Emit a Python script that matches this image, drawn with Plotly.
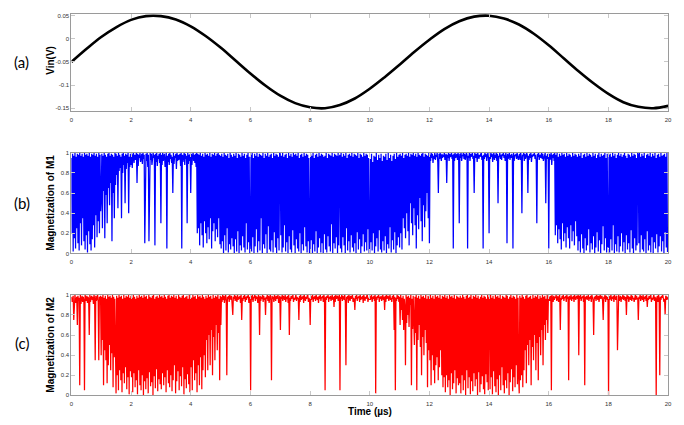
import plotly.graph_objects as go

# ---- data ----
# (a) input voltage, sampled every 0.5 us
vin_t = [i * 0.5 for i in range(41)]
vin_v = [-0.050, -0.022, 0.004, 0.025, 0.041, 0.049, 0.049, 0.042, 0.027, 0.006,
         -0.019, -0.047, -0.075, -0.101, -0.123, -0.139, -0.148, -0.150, -0.143, -0.129,
         -0.108, -0.083, -0.056, -0.028, -0.002, 0.021, 0.038, 0.048, 0.050, 0.044,
         0.031, 0.011, -0.014, -0.042, -0.070, -0.096, -0.119, -0.137, -0.147, -0.150,
         -0.145]

# (b) magnetization of M1 (percent), 50 samples per microsecond (0..20 us)
m1_pct = [
    95,20,99,2,97,15,100,5,96,25,99,10,98,3,100,30,97,8,99,35,96,12,100,4,98,
    18,99,1,97,22,100,9,96,3,99,14,98,28,100,6,97,38,99,16,96,32,100,20,98,42,
    55,99,25,97,62,100,15,98,58,96,30,99,65,100,48,97,70,99,12,98,60,96,35,100,68,
    99,78,97,45,100,82,98,85,96,35,99,80,100,88,97,50,99,84,98,90,100,40,96,86,99,
    88,99,85,97,100,90,98,93,96,100,70,99,87,98,95,100,91,97,99,89,100,94,98,10,96,
    99,92,100,86,98,12,97,100,93,99,88,96,100,95,98,8,99,91,100,87,97,94,99,90,100,
    30,98,88,100,92,97,99,86,95,100,5,97,91,99,88,100,94,98,90,96,60,100,89,97,95,
    99,84,100,92,98,93,97,99,87,100,5,98,91,96,100,88,99,94,97,30,100,89,98,92,99,
    60,99,88,97,100,92,98,90,99,86,100,20,99,25,98,8,100,30,97,18,99,6,96,32,100,
    20,98,10,99,26,97,14,100,35,96,5,99,22,98,30,100,12,97,24,99,16,100,35,98,9,
    97,5,99,12,96,0,100,18,98,3,97,25,99,1,95,9,100,4,98,15,96,7,99,0,97,
    14,100,2,95,22,99,0,98,8,96,3,100,17,97,6,99,1,95,30,98,4,100,11,96,0,
    10,98,2,100,16,95,0,99,7,97,24,100,1,96,12,99,3,98,35,97,0,100,9,95,5,
    99,19,97,0,100,27,96,4,98,2,99,13,95,1,100,21,97,6,99,0,98,15,96,3,100,
    99,18,97,1,100,6,96,28,98,2,99,11,95,0,100,17,97,4,99,1,96,23,100,8,98,
    0,99,14,97,5,100,2,95,20,98,0,99,9,96,3,100,26,97,7,99,1,98,12,95,0,
    3,99,13,97,0,100,9,95,2,98,22,99,0,96,6,100,15,97,1,99,10,98,0,96,19,
    97,4,100,1,95,17,99,7,98,2,97,29,100,0,96,10,99,5,98,16,97,0,100,8,96,
    98,5,100,1,96,16,99,8,97,0,100,25,95,3,98,12,99,1,97,18,100,6,96,2,99,
    10,98,0,97,21,100,4,95,14,99,0,98,7,96,19,100,2,97,11,99,3,98,24,95,0,
    1,94,11,99,3,91,20,97,0,96,7,100,15,93,2,98,23,95,4,99,1,92,12,97,3,
    96,17,99,0,93,9,100,5,95,26,98,1,92,13,97,4,99,21,94,0,100,8,96,16,98,
    6,99,20,97,4,100,35,95,25,98,15,99,40,97,22,100,8,96,50,99,30,98,18,100,45,
    97,28,99,5,96,38,100,24,98,55,97,32,99,12,100,48,96,26,99,42,98,60,97,35,100,
    10,98,92,100,95,99,90,97,94,100,93,98,96,100,91,60,99,94,100,97,92,99,95,98,96,
    100,93,97,99,70,98,95,100,92,99,96,97,100,94,98,5,99,92,100,95,97,99,93,100,96,
    30,99,95,100,92,98,97,100,94,99,93,96,100,98,5,97,95,100,92,99,96,98,100,94,97,
    60,100,98,95,99,91,100,97,94,98,96,99,100,93,97,5,98,94,100,96,99,92,97,100,95,
    20,98,94,100,96,99,91,97,100,93,98,95,100,92,99,50,97,96,100,94,98,93,99,97,100,
    95,98,92,100,96,10,99,94,97,100,93,98,95,99,96,5,100,92,98,97,99,94,100,96,93,
    96,99,93,100,95,40,98,97,100,92,99,94,96,100,98,60,97,93,99,95,100,91,98,96,99,
    97,100,94,98,92,30,99,96,100,93,97,98,95,100,94,99,92,96,98,100,50,97,94,99,96,
    5,99,93,97,100,88,98,95,99,92,100,18,98,28,100,10,96,24,99,14,97,4,100,30,98,
    12,99,20,96,6,100,26,97,15,99,5,98,28,96,12,100,22,97,8,99,32,98,17,96,3,
    99,12,97,1,100,19,95,5,98,0,99,15,96,3,100,8,97,24,99,1,98,10,96,4,100,
    17,97,0,99,6,95,21,98,2,100,13,96,0,99,9,97,27,98,3,100,15,95,1,99,7,
    6,98,1,99,14,96,3,100,28,97,0,99,9,95,2,98,17,100,1,97,7,99,20,96,2,
    98,11,100,0,97,18,95,4,99,10,98,1,96,23,100,5,97,0,99,15,98,3,95,8,100,
    98,10,100,1,96,18,99,4,97,2,100,14,95,0,98,22,99,3,97,8,100,1,96,16,99,
    0,97,11,100,5,95,19,98,1,99,7,96,17,100,2,97,12,98,0,99,21,96,6,100,2,
    2]

# (c) magnetization of M2 (percent), 50 samples per microsecond (0..20 us)
m2_pct = [
    98,93,96,99,75,97,100,92,95,98,70,99,94,97,10,100,91,96,99,93,98,95,5,100,97,
    94,99,92,98,96,60,100,93,97,99,95,98,91,100,96,35,99,94,97,100,93,35,98,95,99,
    40,98,55,100,10,97,45,99,35,96,12,100,30,98,50,99,25,97,42,100,8,98,38,96,48,
    2,99,20,97,5,100,25,98,15,99,3,96,22,100,12,97,28,99,6,98,18,100,1,97,24,99,
    18,97,3,100,22,98,8,96,15,99,1,97,25,100,10,98,5,99,20,97,0,100,14,98,6,
    99,17,96,2,100,23,98,9,97,13,99,0,100,19,96,7,98,26,99,4,97,16,100,11,98,
    6,99,22,97,10,100,18,98,3,96,25,99,12,100,8,97,20,99,4,98,15,100,30,97,2,
    99,14,96,24,100,5,98,19,97,9,99,28,100,1,97,16,98,7,99,21,96,11,100,3,98,
    28,97,5,100,35,98,15,99,22,96,3,100,30,98,10,99,38,97,6,100,25,98,40,96,18,
    99,55,97,25,100,60,98,30,99,65,96,20,100,58,97,35,99,70,98,45,100,62,96,15,99,
    70,98,93,100,95,99,92,97,100,94,20,98,96,99,93,100,97,95,99,91,80,98,96,100,94,
    99,97,93,100,95,98,96,99,92,100,75,97,94,99,96,100,93,98,95,99,97,100,92,98,96,
    5,99,95,100,93,98,97,100,94,99,96,98,92,100,97,60,99,94,98,96,100,93,99,95,97,
    80,98,96,100,94,99,92,97,100,95,15,99,96,98,93,100,97,94,99,96,98,100,92,97,99,
    65,98,96,100,94,99,97,95,100,93,98,96,99,92,100,60,97,94,99,96,98,100,93,97,95,
    99,100,94,98,96,97,75,99,93,100,95,98,96,99,92,100,97,94,98,96,99,100,93,97,95,
    70,99,95,97,100,93,98,96,99,94,100,97,95,98,92,99,96,100,94,98,97,99,93,100,96,
    5,98,95,99,97,100,93,98,96,99,94,97,100,95,98,88,99,93,100,96,97,99,94,98,100,
    5,98,96,100,94,99,97,95,100,93,30,98,96,99,92,100,97,94,99,96,98,100,93,97,95,
    85,99,96,100,94,98,97,99,93,100,95,98,96,99,92,100,97,94,98,96,99,100,93,97,95,
    99,95,97,100,93,98,96,99,94,100,2,98,95,99,97,100,93,98,96,99,94,97,100,95,98,
    85,99,93,100,96,97,99,94,98,100,95,97,93,99,96,100,65,98,5,97,94,100,96,99,93,
    98,70,100,85,97,75,99,65,96,88,30,100,72,98,80,99,68,97,90,100,10,96,66,99,78,
    50,98,62,100,5,97,55,99,70,96,48,100,20,98,58,99,40,97,65,100,52,96,8,99,45,
    98,35,100,10,97,40,99,25,96,12,100,30,98,38,99,15,97,28,100,45,96,20,99,8,98,
    18,100,3,97,20,99,8,96,15,100,0,98,22,99,6,97,12,100,25,96,2,99,17,98,10,97,
    12,99,2,97,20,100,5,98,15,96,0,99,25,100,7,97,18,98,1,100,14,96,4,99,22,
    98,9,100,16,97,0,99,23,96,3,98,11,100,19,97,6,99,1,98,21,96,13,100,5,97,
    98,6,100,18,97,1,99,24,96,9,100,3,98,16,99,0,97,20,100,5,96,28,99,10,98,
    2,97,15,100,7,99,22,96,0,98,13,100,26,97,4,99,18,98,8,96,30,100,11,97,20,
    2,99,15,97,20,100,8,98,25,96,45,99,12,100,50,97,30,98,55,99,10,96,48,100,35,
    97,60,99,25,98,52,100,15,96,58,99,40,97,65,100,30,98,70,99,55,96,75,100,62,98,
    98,94,97,99,5,100,96,93,99,95,98,97,100,94,96,99,93,98,100,65,97,95,99,96,100,
    94,98,97,99,93,100,96,98,15,99,95,97,100,94,98,96,99,93,100,97,95,98,99,96,100,
    40,99,96,100,94,98,97,99,93,100,10,98,96,99,95,97,100,94,98,96,99,93,100,97,95,
    60,98,96,99,94,100,97,95,99,93,98,100,96,97,99,94,75,98,96,100,93,99,97,95,98,
    0,99,95,97,100,94,98,96,99,93,100,97,95,98,99,45,96,100,94,97,99,93,98,96,100,
    95,99,97,94,98,80,100,96,99,93,97,98,95,100,94,99,96,97,93,98,100,95,99,96,97,
    75,98,96,100,94,99,97,95,100,93,98,96,99,94,100,88,97,95,99,96,98,100,93,97,95,
    99,100,94,98,96,0,97,99,93,100,96,20,98,95,99,97,100,94,93,96,80,99,98,95,97,
    98]

m1 = [v / 100 for v in m1_pct]
m2 = [v / 100 for v in m2_pct]
m1_t = [20 * i / (len(m1) - 1) for i in range(len(m1))]
m2_t = [20 * i / (len(m2) - 1) for i in range(len(m2))]

x_ticks = [0, 2, 4, 6, 8, 10, 12, 14, 16, 18, 20]
vin_ticks = [-0.15, -0.1, -0.05, 0, 0.05]
vin_tick_text = ["-0.15", "-0.1", "-0.05", "0", "0.05"]
m_ticks = [0, 0.2, 0.4, 0.6, 0.8, 1]
m_tick_text = ["0", "0.2", "0.4", "0.6", "0.8", "1"]

W, H = 684, 425
def px(x):
    return x / W
def py(y):
    return 1 - y / H

fig = go.Figure()
fig.add_trace(go.Scatter(x=vin_t, y=vin_v, mode="lines", line=dict(color="black", width=2.6, shape="spline"),
                         xaxis="x", yaxis="y", showlegend=False, hoverinfo="skip"))
fig.add_trace(go.Scatter(x=m1_t, y=m1, mode="lines", line=dict(color="#0000ff", width=1.25),
                         xaxis="x2", yaxis="y2", showlegend=False, hoverinfo="skip"))
fig.add_trace(go.Scatter(x=m2_t, y=m2, mode="lines", line=dict(color="#ff0000", width=1.25),
                         xaxis="x3", yaxis="y3", showlegend=False, hoverinfo="skip"))

tick_font = dict(family="Liberation Sans, Arial", size=6, color="#333333")
ax_common = dict(showline=True, linecolor="#9a9a9a", linewidth=1, mirror="allticks",
                 ticks="inside", ticklen=4, tickcolor="#c8c8c8", tickwidth=1,
                 showgrid=False, zeroline=False, tickfont=tick_font)

xdom = [px(70), px(672)]
panels = [(11, 110), (152, 254), (296, 398)]

layout = dict(width=W, height=H, margin=dict(l=0, r=0, t=0, b=0),
              paper_bgcolor="white", plot_bgcolor="white", showlegend=False)
for i, (top, bot) in enumerate(panels):
    sfx = "" if i == 0 else str(i + 1)
    layout["xaxis" + sfx] = dict(domain=xdom, range=[0, 20], tickvals=x_ticks,
                                 anchor="y" + sfx, ticklabelstandoff=2, **ax_common)
    if i == 0:
        yv = dict(range=[-0.157, 0.054], tickvals=vin_ticks, ticktext=vin_tick_text)
    else:
        yv = dict(range=[0, 1.0], tickvals=m_ticks, ticktext=m_tick_text)
    layout["yaxis" + sfx] = dict(domain=[py(bot), py(top)], anchor="x" + sfx, **yv, **ax_common)

fig.update_layout(**layout)

lab_font = dict(family="Lato, Open Sans", size=15, color="black")
tit_font = dict(family="Liberation Sans, Arial", size=10, color="black")
for txt, x, y in [("(a)", 20, 60), ("(b)", 20, 203), ("(c)", 20, 345)]:
    fig.add_annotation(text=txt, x=px(x), y=py(y), xref="paper", yref="paper",
                       showarrow=False, font=lab_font, xanchor="center", yanchor="middle")
for txt, y in [("<b>Vin(V)</b>", 58), ("<b>Magnetization of M1</b>", 203), ("<b>Magnetization of M2</b>", 347)]:
    fig.add_annotation(text=txt, x=px(49), y=py(y), xref="paper", yref="paper", textangle=-90,
                       showarrow=False, font=tit_font, xanchor="center", yanchor="middle")
fig.add_annotation(text="<b>Time (µs)</b>", x=px(371), y=py(414), xref="paper", yref="paper",
                   showarrow=False, font=tit_font, xanchor="center", yanchor="middle")

fig.write_html("out.html", config={"displayModeBar": False},
               post_script="document.body.style.margin='0';document.body.style.overflow='hidden';")
